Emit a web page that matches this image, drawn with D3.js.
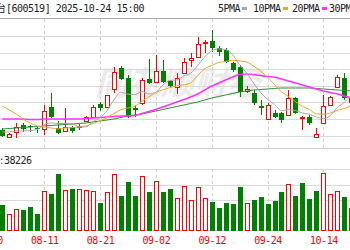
<!DOCTYPE html>
<html>
<head>
<meta charset="utf-8">
<script src="https://cdn.jsdelivr.net/npm/d3@7"></script>
<style>
body { margin: 0; background: #fff; }
svg { display: block; }
</style>
</head>
<body>
<svg width="350" height="250"></svg>
<script>
// trading days shown (08-01 .. 10-20), plus days just off the edges
const daysBefore = ["07-30", "07-31"];
const days = ["08-01","08-04","08-05","08-06","08-07","08-08","08-11","08-12","08-13","08-14",
  "08-15","08-18","08-19","08-20","08-21","08-22","08-25","08-26","08-27","08-28",
  "08-29","09-01","09-02","09-03","09-04","09-05","09-08","09-09","09-10","09-11",
  "09-12","09-15","09-16","09-17","09-18","09-19","09-22","09-23","09-24","09-25",
  "09-26","09-29","09-30","10-09","10-10","10-13","10-14","10-15","10-16","10-17","10-20"];
const daysAfter = ["10-21", "10-22", "10-23", "10-24"];
const tickDays = ["07-30", "08-11", "08-21", "09-02", "09-12", "09-24", "10-14"];

const open = [1407,1398.6,1404.6,1413,1411.2,1408.8,1408.2,1434.6,1409.4,1405.8,
  1410.6,1410.6,1417.8,1422.6,1438.2,1434.6,1456.2,1481.4,1469.4,1433.4,
  1439.4,1468.2,1464.6,1477.8,1465.8,1458.6,1475.4,1491,1494.6,1512,
  1513.8,1505.4,1503,1487.4,1482.6,1453.8,1451.4,1435.8,1420.2,1427.4,
  1427.4,1425,1445.4,1421.4,1422.6,1398.6,1415.4,1437,1458.6,1469.4,1440.6];
const high = [1409.4,1403.4,1415.4,1415.4,1413,1410.6,1437,1451.4,1417.8,1433.4,
  1411.8,1414.2,1423.8,1437,1440.6,1449,1482.6,1483.8,1473,1437,
  1469.4,1492.2,1497,1491,1467,1475.4,1493.4,1499.4,1518.6,1515,
  1527,1507.8,1505.4,1488.6,1485,1459.8,1455,1443,1439.4,1431,
  1428.6,1455,1446.6,1423.8,1425,1409.4,1449,1447.8,1473,1475.4,1449];
const low = [1398.6,1397.4,1397.4,1404.6,1404.6,1403.4,1401,1421.4,1402.2,1404.6,
  1403.4,1407,1416.6,1421.4,1429.8,1434,1451.4,1467,1421.4,1422.6,
  1437,1462.2,1463.4,1463.4,1458.6,1450.2,1474.2,1482.6,1493.4,1499.4,
  1500.6,1495.8,1487.4,1476.6,1446.6,1451.4,1437,1425,1419,1421.4,
  1415.4,1423.8,1426.2,1407,1413,1397.4,1414.2,1435.8,1457.4,1443,1439.4];
const close = [1399.8,1402.2,1410.6,1408.2,1410,1407.6,1429.8,1422.6,1403.4,1410.6,
  1405.8,1411.8,1422.6,1434.6,1433.4,1449,1476.6,1468.2,1422.6,1431,
  1467,1463.4,1477.8,1464.6,1459.8,1469.4,1488.6,1493.4,1510.2,1512.6,
  1505.4,1500.6,1488.6,1479,1452.6,1456.2,1439.4,1433.4,1437,1422.6,
  1419,1445.4,1427.4,1422.6,1415.4,1402.2,1435.8,1446.6,1470.6,1445.4,1446.6];

const ma5 = [1404.6,1404.6,1405.8,1405.8,1406.2,1407.7,1413.2,1415.6,1414.7,1414.8,
  1414.4,1410.8,1410.8,1417.1,1421.6,1430.3,1443.2,1452.4,1450,1449.5,
  1453.1,1450.4,1452.4,1460.8,1466.5,1467,1472,1475.2,1484.3,1494.8,
  1502,1504.4,1503.5,1497.2,1485.2,1475.4,1463.2,1452.1,1443.7,1437.7,
  1430.3,1431.5,1430.3,1427.4,1426,1422.6,1420.7,1424.5,1434.1,1440.1,1449];
const ma10 = [1435.8,1431,1426.2,1420.2,1415.4,1411.8,1410.6,1409.4,1408.2,1409.4,
  1410,1410.6,1411.8,1414.8,1417.8,1422,1426.8,1431.5,1433.4,1435.4,
  1441.6,1446.7,1452.2,1455.2,1457.9,1459.9,1461.1,1463.6,1472.4,1480.6,
  1484.4,1488.1,1489.2,1490.6,1489.9,1488.6,1483.7,1477.7,1470.4,1461.4,
  1452.7,1447.2,1441.1,1435.4,1431.7,1426.3,1426,1427.3,1430.6,1432.9,1435.7];
const ma20 = [1420.2,1420.2,1420.2,1420.2,1419.6,1419.6,1420.2,1420.2,1420.2,1420.2,
  1420.2,1420.2,1420.8,1421.4,1422,1422.6,1423.2,1423.8,1423.8,1424.4,
  1426.8,1429.2,1431.6,1434.6,1437.6,1440.6,1443.6,1446.6,1450.2,1455,
  1459.8,1463.4,1467,1470.6,1473.6,1474.2,1473.6,1472.4,1471.2,1470.6,
  1468.2,1465.8,1463.4,1461,1458.6,1456.2,1453.8,1452,1450.2,1447.8,1445.4];
const ma30 = [1408.2,1408.8,1409.4,1410,1410.6,1411.2,1411.8,1412.4,1413,1413.6,
  1414.2,1414.8,1415.4,1416.6,1417.8,1419,1420.2,1422,1423.8,1425,
  1426.2,1428,1429.8,1431.6,1433.4,1435.2,1437,1438.8,1440.6,1443,
  1445.4,1447.2,1449,1450.8,1452.6,1453.8,1455,1455.6,1456.2,1456.8,
  1457.4,1457.4,1457.4,1457.4,1457.4,1456.8,1456.2,1455.6,1455,1454.4,1453.8];

const volume = [33500,21900,28400,27100,31000,21900,51600,47700,73500,52900,
  54200,54200,52900,51600,36100,50300,73500,45200,63200,45200,
  71000,50300,64500,50300,54200,42600,58100,40000,56800,42600,
  37400,29700,36100,34800,56800,36100,40000,43900,34800,38700,
  50300,60600,45200,61900,41300,51600,74800,47700,51600,43900,29700];
const volUp = [0,1,1,0,0,0,1,0,0,1, 0,1,1,1,0,1,1,0,0,0, 1,0,1,0,0,1,1,1,1,1,
  0,0,0,0,0,1,0,0,0,0, 0,1,0,0,0,0,1,1,1,0,1];
const lastVolume = 38226;

const priceGrid = [1400, 1420, 1440, 1460, 1480, 1500, 1520, 1540];
const volGrid = [20000, 40000, 60000, 80000];
const maNames = ["5PMA", "10PMA", "20PMA", "30PMA"];
const maColors = ["#a8a8a8", "#f5a623", "#ff33ff", "#2e8b3a"];

const width = 350, height = 250;
const svg = d3.select("svg");
const font = "'DejaVu Sans Mono', monospace";
const cjk = "'Noto Sans CJK SC', sans-serif";

const allDays = daysBefore.concat(days, daysAfter);
const x = d3.scalePoint().domain(allDays).range([-11.66, -11.66 + 6.98 * (allDays.length - 1)]);
const y = d3.scaleLinear().domain([1400, 1540]).range([135.83, 19.17]);
const yv = d3.scaleLinear().domain([0, 80000]).range([231, 169]);
const px = v => Math.round(v) + 0.5;

// watermark
svg.append("text")
    .attr("x", 95).attr("y", 95)
    .attr("font-family", cjk).attr("font-size", 33)
    .attr("font-style", "italic").attr("font-weight", "bold")
    .attr("fill", "#ebebeb")
    .text("同花顺财经");

// header
svg.append("text")
    .attr("x", 6).attr("y", 11.5).attr("text-anchor", "end")
    .attr("font-family", cjk).attr("font-size", 10).attr("fill", "#222")
    .text("贵州茅台");
svg.append("text")
    .attr("x", 6).attr("y", 11.5)
    .attr("font-family", font).attr("font-size", 10).attr("letter-spacing", -0.5).attr("fill", "#222")
    .text("[600519] 2025-10-24 15:00");

let legend = svg.append("g");
let lx = [218, 253, 292, 329];
maNames.forEach(function(name, i) {
    legend.append("text")
        .attr("x", lx[i]).attr("y", 11.5)
        .attr("font-family", font).attr("font-size", 10).attr("letter-spacing", -0.5).attr("fill", "#222")
        .text(name);
    legend.append("rect")
        .attr("x", lx[i] + (i == 0 ? 24 : 30)).attr("y", 7)
        .attr("width", 5).attr("height", 3)
        .attr("fill", maColors[i]);
});

// panel lines
svg.append("line").attr("x1", 0).attr("x2", width).attr("y1", 18.5).attr("y2", 18.5).attr("stroke", "#aaa");
svg.append("g").selectAll("line").data(priceGrid.slice(0, -1)).enter().append("line")
    .attr("x1", 0).attr("x2", width)
    .attr("y1", d => px(y(d))).attr("y2", d => px(y(d)))
    .attr("stroke", "#d9d9d9");
svg.append("line").attr("x1", 0).attr("x2", width).attr("y1", 148.5).attr("y2", 148.5).attr("stroke", "#ccc");
svg.append("g").selectAll("line").data(volGrid).enter().append("line")
    .attr("x1", 0).attr("x2", width)
    .attr("y1", d => px(yv(d))).attr("y2", d => px(yv(d)))
    .attr("stroke", "#d9d9d9");
svg.append("line").attr("x1", 0).attr("x2", width).attr("y1", 230.5).attr("y2", 230.5).attr("stroke", "#ccc");

// vertical dashed date lines
let vg = svg.append("g").attr("stroke", "#d0d0d0").attr("stroke-dasharray", "3,3");
tickDays.forEach(function(d) {
    vg.append("line").attr("x1", px(x(d))).attr("x2", px(x(d))).attr("y1", 19).attr("y2", 148);
    vg.append("line").attr("x1", px(x(d))).attr("x2", px(x(d))).attr("y1", 169).attr("y2", 230);
});

// candles
const up = "#ff0000", down = "#008000";
let cg = svg.append("g");
days.forEach(function(d, i) {
    let cx = Math.round(x(d));
    let isUp = close[i] >= open[i];
    let col = isUp ? up : down;
    cg.append("line")
        .attr("x1", cx + 0.5).attr("x2", cx + 0.5)
        .attr("y1", y(high[i])).attr("y2", y(low[i]))
        .attr("stroke", col);
    let top = Math.round(y(Math.max(open[i], close[i])));
    let bot = Math.round(y(Math.min(open[i], close[i])));
    if (isUp) {
        cg.append("rect")
            .attr("x", cx - 1.5).attr("y", top + 0.5)
            .attr("width", 4).attr("height", Math.max(1, bot - top))
            .attr("fill", "#fff").attr("stroke", col);
    } else {
        cg.append("rect")
            .attr("x", cx - 2).attr("y", top)
            .attr("width", 5).attr("height", Math.max(1, bot - top))
            .attr("fill", col);
    }
});

// moving averages
const maData = [ma5, ma10, ma20, ma30];
[3, 2, 1, 0].forEach(function(k) {
    let line = d3.line()
        .x((v, i) => x(days[i]))
        .y(v => y(v))
        .curve(d3.curveMonotoneX);
    svg.append("path")
        .attr("d", line(maData[k]))
        .attr("fill", "none")
        .attr("stroke", maColors[k])
        .attr("stroke-width", k == 2 ? 1.6 : 1);
});

// volume label
svg.append("text")
    .attr("x", 3).attr("y", 163.5).attr("text-anchor", "end")
    .attr("font-family", cjk).attr("font-size", 10).attr("fill", "#222")
    .text("成交量:");
svg.append("text")
    .attr("x", 4).attr("y", 163.5)
    .attr("font-family", font).attr("font-size", 10).attr("letter-spacing", -0.5).attr("fill", "#222")
    .text(lastVolume);

// volume bars
let bg = svg.append("g");
days.forEach(function(d, i) {
    let cx = Math.round(x(d));
    let top = Math.round(yv(volume[i]));
    if (volUp[i]) {
        bg.append("rect")
            .attr("x", cx - 1.5).attr("y", top + 0.5)
            .attr("width", 4).attr("height", 230 - top)
            .attr("fill", "#fff").attr("stroke", up);
    } else {
        bg.append("rect")
            .attr("x", cx - 2).attr("y", top)
            .attr("width", 5).attr("height", 231 - top)
            .attr("fill", down);
    }
});

// date axis
let xAxis = d3.axisBottom(x).tickValues(tickDays).tickSize(0);
let ax = svg.append("g").attr("transform", "translate(0,234)").call(xAxis);
ax.select(".domain").remove();
ax.selectAll("text")
    .attr("fill", "#ff0000")
    .attr("font-family", font)
    .attr("font-size", 10)
    .attr("letter-spacing", -0.5);
</script>
</body>
</html>
